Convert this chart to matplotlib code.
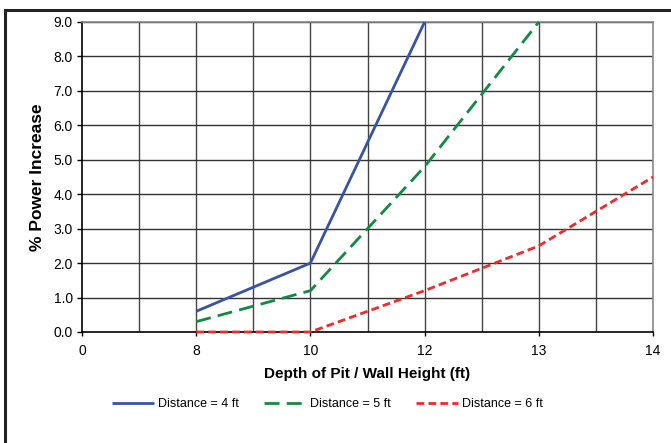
import matplotlib
matplotlib.use("Agg")
import matplotlib.pyplot as plt
import numpy as np
from matplotlib.lines import Line2D

plt.rcParams['font.family'] = ['Liberation Sans', 'DejaVu Sans']

# Data (category axis)
depth_labels = ['0', '8', '10', '12', '13', '14']
dist_4ft = [np.nan, 0.6, 2.0, 9.0, np.nan, np.nan]
dist_5ft = [np.nan, 0.3, 1.2, 4.8, 9.0, np.nan]
dist_6ft = [np.nan, 0.0, 0.0, 1.2, 2.5, 4.5]
y_ticks = [0, 1, 2, 3, 4, 5, 6, 7, 8, 9]

fig = plt.figure(figsize=(6.71, 4.43), dpi=100)
ax = fig.add_axes([0.1222, 0.2506, 0.851, 0.6998])

x = np.arange(len(depth_labels))

# grid lines (vertical every half category, horizontal every unit)
for gx in np.arange(0.5, len(depth_labels) - 1, 0.5):
    ax.axvline(gx, color='#444444', lw=1.0, zorder=1)
for gy in y_ticks[1:]:
    ax.axhline(gy, color='#333333', lw=1.0, zorder=1)

ax.plot(x, dist_4ft, color='#3953A4', lw=2.0, label='Distance = 4 ft',
        solid_capstyle='butt', zorder=3, clip_on=False)
ax.plot(x, dist_5ft, color='#138A43', lw=2.0, dashes=(5.4, 2.6),
        label='Distance = 5 ft', zorder=3, clip_on=False)
ax.plot(x, dist_6ft, color='#EE2A2A', lw=2.0, dashes=(2.8, 1.5),
        label='Distance = 6 ft', zorder=3, clip_on=False)

ax.set_xlim(0, len(depth_labels) - 1)
ax.set_ylim(0, 9)
ax.set_xticks(x)
ax.set_xticklabels(depth_labels, fontsize=10)
ax.set_yticks(y_ticks)
ax.set_yticklabels([f'{v:.1f}' for v in y_ticks], fontsize=10)
ax.tick_params(axis='x', direction='out', length=3, width=1, pad=6)
ax.tick_params(axis='y', direction='out', length=3.5, width=1, pad=3)

for side in ['left', 'bottom']:
    ax.spines[side].set_color('black')
    ax.spines[side].set_linewidth(1.2)
for side in ['top', 'right']:
    ax.spines[side].set_color('#888888')
    ax.spines[side].set_linewidth(1.2)

ax.set_xlabel('Depth of Pit / Wall Height (ft)', fontsize=11,
              fontweight='bold', labelpad=6)
ax.set_ylabel('% Power Increase', fontsize=12.5, fontweight='bold',
              labelpad=6)

fig.legend(loc='center', bbox_to_anchor=(0.488, 0.088), ncol=3,
           frameon=False, fontsize=9, handlelength=3.4, handletextpad=0.3,
           columnspacing=2.0)

# outer chart border (cropped on the right and bottom)
fig.add_artist(Line2D([5 / 671, 5 / 671], [0, 1 - 10 / 443],
                      color='#222222', lw=2.2, transform=fig.transFigure))
fig.add_artist(Line2D([5 / 671, 1], [1 - 10 / 443, 1 - 10 / 443],
                      color='#222222', lw=2.2, transform=fig.transFigure))

fig.savefig('out.png', dpi=100)
